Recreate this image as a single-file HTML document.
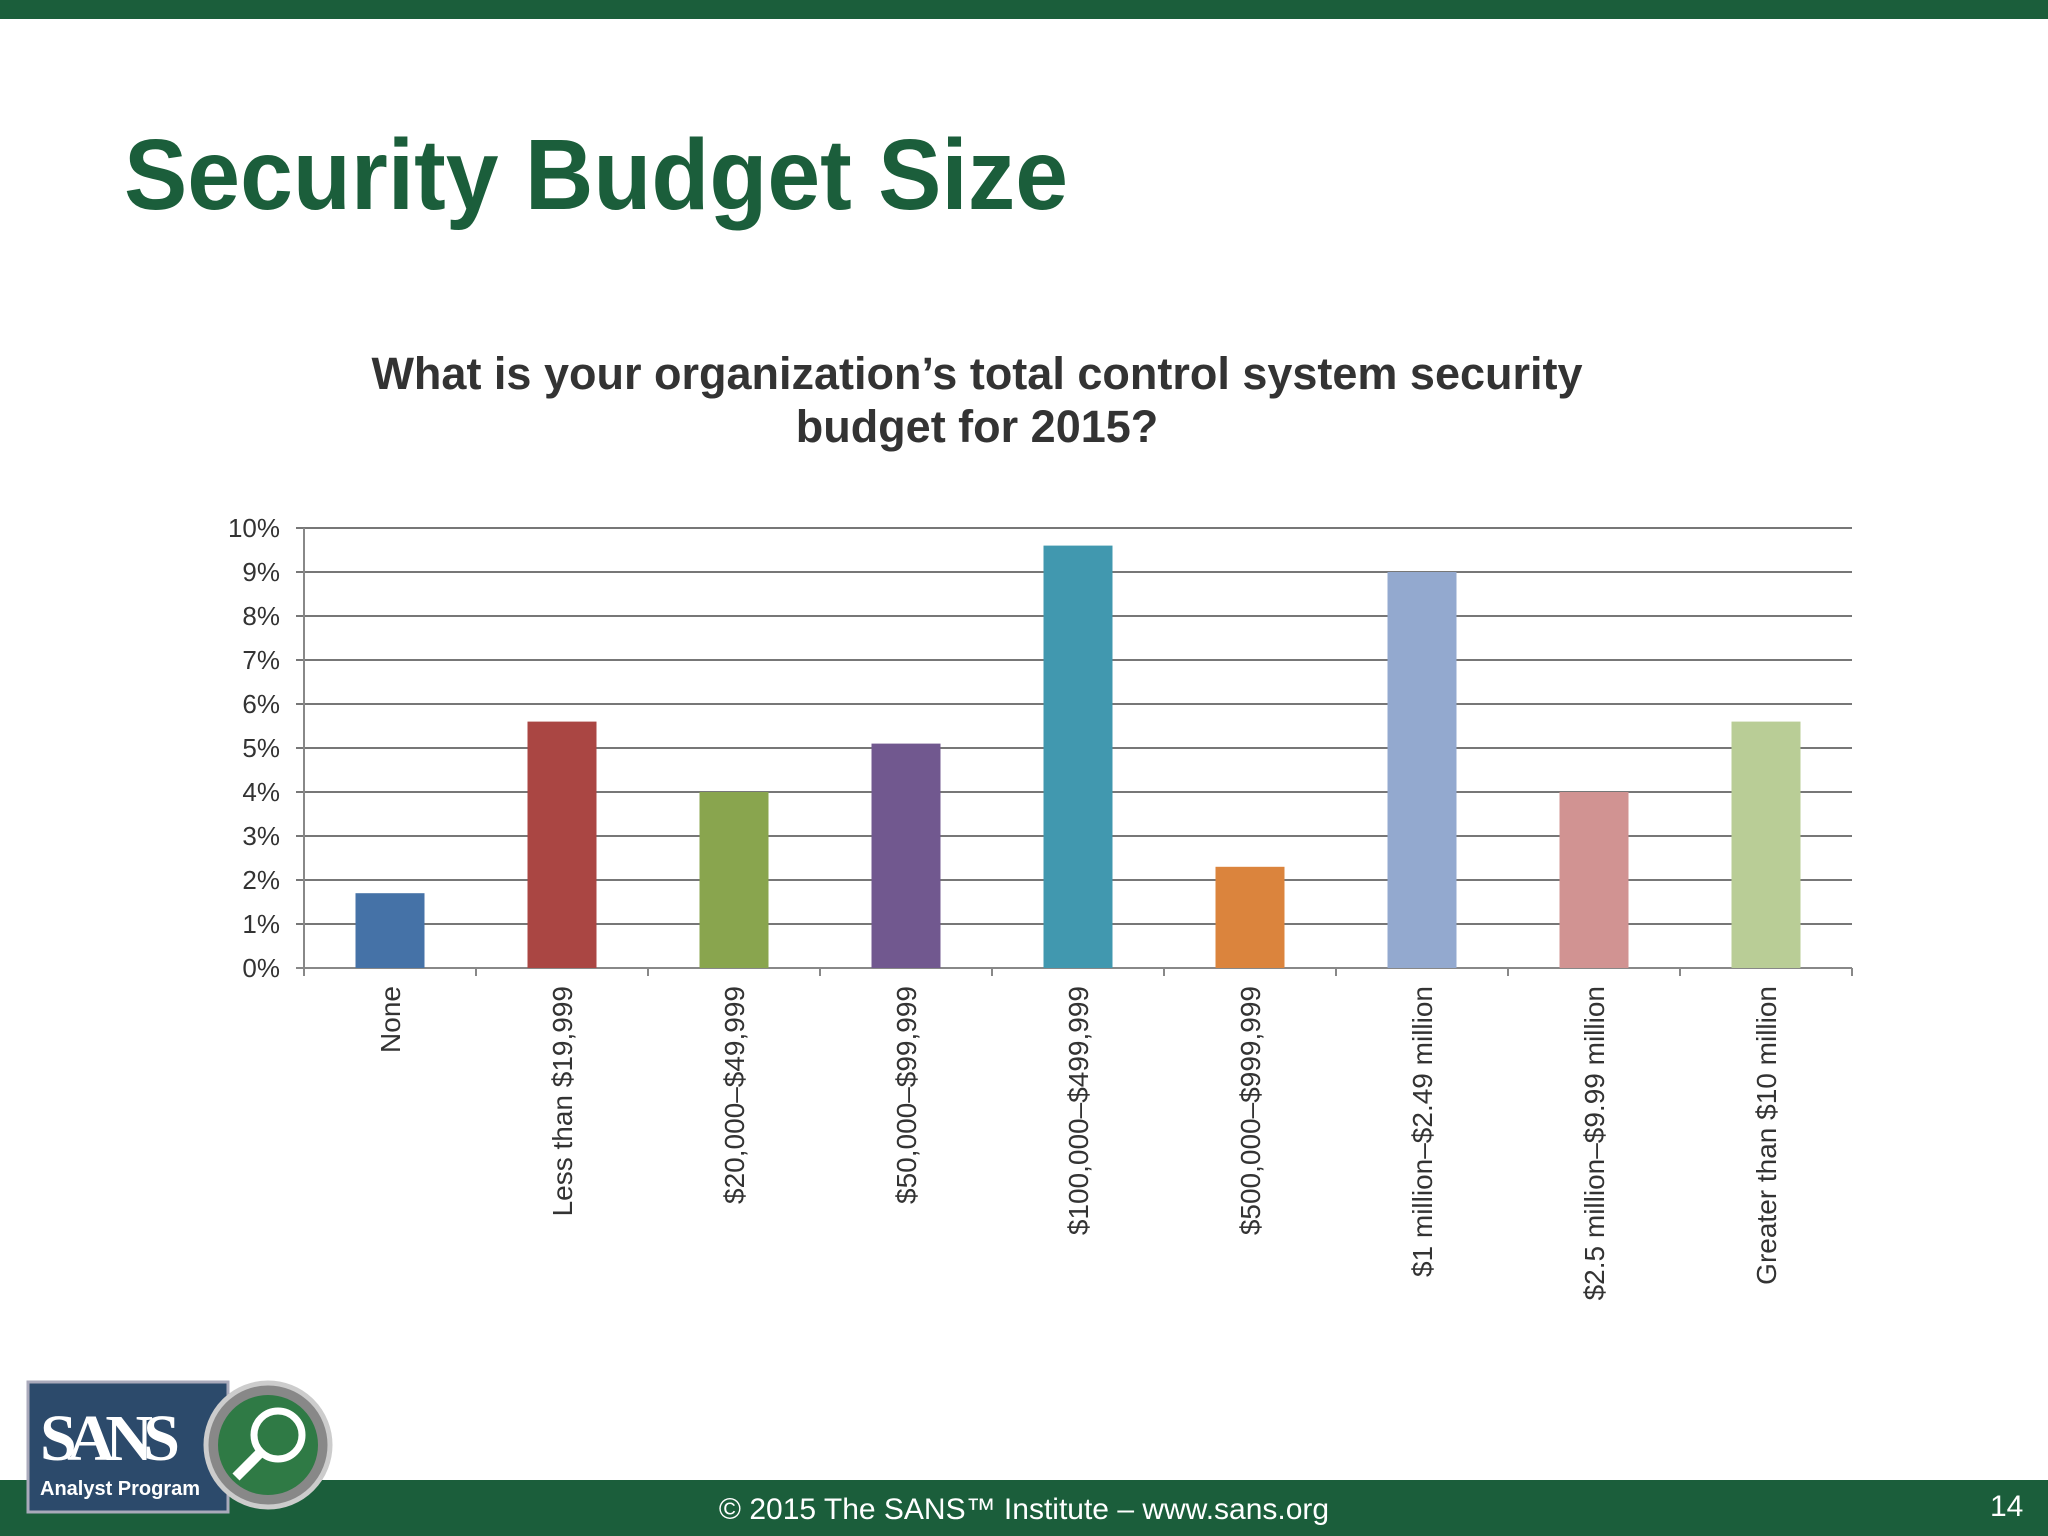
<!DOCTYPE html>
<html><head><meta charset="utf-8"><style>
body{margin:0;width:2048px;height:1536px;background:#fff;position:relative;overflow:hidden;font-family:"Liberation Sans",sans-serif}
.topbar{position:absolute;left:0;top:0;width:2048px;height:19px;background:#1b5e3b}
.bottombar{position:absolute;left:0;top:1480px;width:2048px;height:56px;background:#1b5e3b}
.footer{position:absolute;left:0;width:2048px;top:1493px;text-align:center;color:#fff;font-size:30px}
.page{position:absolute;left:1990px;top:1490px;color:#fff;font-size:30px}
</style></head><body>
<div class="topbar"></div>
<svg id="chart" width="2048" height="1536" style="position:absolute;left:0;top:0">
<text x="124" y="209" font-size="100" font-weight="bold" fill="#1b5e3b" textLength="944" lengthAdjust="spacingAndGlyphs">Security Budget Size</text>
<text x="977" y="389" text-anchor="middle" font-size="45" font-weight="bold" fill="#333">What is your organization’s total control system security</text>
<text x="977" y="442" text-anchor="middle" font-size="45" font-weight="bold" fill="#333">budget for 2015?</text>
</svg>
<div class="bottombar"></div>
<div class="footer">© 2015 The SANS™ Institute – www.sans.org</div>
<div class="page">14</div>
<svg width="330" height="170" style="position:absolute;left:20px;top:1360px">
<rect x="8" y="22" width="200" height="130" fill="#2c4a6b" stroke="#aab" stroke-width="3"/>
<text x="20" y="100" font-size="66" font-weight="bold" fill="#fff" font-family="Liberation Serif,serif" textLength="140">SANS</text>
<text x="20" y="135" font-size="20" font-weight="bold" fill="#fff">Analyst Program</text>
<circle cx="248" cy="85" r="62" fill="#888" stroke="#ccc" stroke-width="5"/>
<circle cx="248" cy="85" r="50" fill="#2f7a45"/>
<circle cx="258" cy="75" r="24" fill="none" stroke="#fff" stroke-width="7"/>
<line x1="240" y1="93" x2="216" y2="117" stroke="#fff" stroke-width="10"/>
</svg>
<script>
const categories=["None","Less than $19,999","$20,000–$49,999","$50,000–$99,999","$100,000–$499,999","$500,000–$999,999","$1 million–$2.49 million","$2.5 million–$9.99 million","Greater than $10 million"];
const values=[1.7,5.6,4.0,5.1,9.6,2.3,9.0,4.0,5.6];
const colors=["#4572a7","#aa4643","#89a54e","#71588f","#4198af","#db843d","#93a9cf","#d19392","#b9cd96"];
const yTicks=[0,1,2,3,4,5,6,7,8,9,10];
const svg=document.getElementById('chart');
const NS='http://www.w3.org/2000/svg';
const x0=304,x1=1852,yb=968,yt=528,ymax=10;
const y=v=>yb-(v/ymax)*(yb-yt);
const cw=(x1-x0)/categories.length;
function mk(t,a){const e=document.createElementNS(NS,t);for(const k in a)e.setAttribute(k,a[k]);svg.appendChild(e);return e;}
yTicks.forEach(t=>{
 const l=mk('line',{x1:x0-8,x2:x1,y1:y(t),y2:y(t),stroke:t===0?'#888':'#777','stroke-width':2});
 
 
 const tx=mk('text',{x:280,y:y(t)+9,'text-anchor':'end','font-size':26,fill:'#333'});
 tx.textContent=t+'%';
 
 
});
const ax=mk('line',{x1:x0,x2:x0,y1:yt,y2:yb,stroke:'#888','stroke-width':2});


for(let i=0;i<=categories.length;i++){
 const tk=mk('line',{x1:x0+i*cw,x2:x0+i*cw,y1:yb,y2:yb+8,stroke:'#888','stroke-width':2});
 
 
}
categories.forEach((c,i)=>{
 const cx=x0+cw*(i+0.5),bw=69;
 const r=mk('rect',{x:cx-bw/2,y:y(values[i]),width:bw,height:yb-y(values[i]),fill:colors[i]});
 
 
 const t=mk('text',{x:0,y:0,'text-anchor':'end','font-size':28,fill:'#333',transform:`translate(${cx+10},986) rotate(-90)`});
 t.textContent=c;
 
 
});
</script>
</body></html>
